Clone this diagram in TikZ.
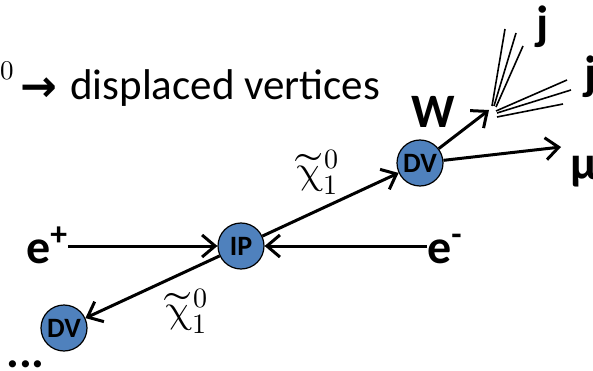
\documentclass[tikz,border=0pt]{standalone}
\usepackage{fontspec}
\usepackage{unicode-math}
\setmainfont{Carlito}
\newfontfamily\arrowfont{DejaVu Sans}
\usetikzlibrary{arrows.meta}
\definecolor{vtxblue}{RGB}{79, 129, 189}

\tikzset{
  vtx/.style={circle, draw=black, line width=1.2pt, fill=vtxblue, inner sep=0pt,
    minimum size=46pt, font=\bfseries\fontsize{28}{28}\selectfont},
  arr/.style={line width=3pt, -{Straight Barb[length=13pt,width=22pt]}},
  jet/.style={line width=1.6pt},
  lbl/.style={inner sep=0pt, font=\bfseries\fontsize{48}{48}\selectfont},
  chi/.style={inner sep=0pt, font=\fontsize{40}{40}\selectfont},
}

\begin{document}
\begin{tikzpicture}[x=1pt, y=-1pt]
        \useasboundingbox (0,0) rectangle (593,371);

        % title line
        \node[inner sep=0pt, anchor=base west, font=\fontsize{27}{27}\selectfont] (zero) at (0,80) {$0$};
        \node[inner sep=0pt, anchor=base west, font=\arrowfont\bfseries\fontsize{44}{44}\selectfont] (titlearrow) at (20,102) {→};
        \node[inner sep=0pt, anchor=base west, font=\fontsize{43}{43}\selectfont] (title) at (70,100) {displaced vertices};

        % vertices
        \node[vtx] (ip) at (241,246) {IP};
        \node[vtx] (dvup) at (420,163) {DV};
        \node[vtx] (dvlow) at (64,328) {DV};

        % beams
        \node[lbl, anchor=base west] (ep) at (26,263) {e\textsuperscript{+}};
        \node[lbl, anchor=base west] (em) at (427,263) {e\textsuperscript{-}};
        \draw[arr] (ep.east |- ip) -- (ip);
        \draw[arr] (em.west |- ip) -- (ip);

        % neutralinos
        \draw[arr] (ip) -- (dvup);
        \draw[arr] (ip) -- (dvlow);
        \node[chi] (chiup) at (318,172) {$\widetilde{\symup{\chi}}_1^0$};
        \node[chi] (chilow) at (187,311) {$\widetilde{\symup{\chi}}_1^0$};
        \node[lbl, anchor=base west] (dots) at (6,367) {...};

        % decay products
        \coordinate (wend) at (489,110);
        \coordinate (muend) at (561,147);
        \draw[arr] (dvup) -- (wend);
        \draw[arr] (dvup) -- (muend);
        \node[lbl, anchor=base west] (wlbl) at (411,128) {W};
        \node[lbl, anchor=base west] (mulbl) at (570,179) {μ};

        % jets
        \foreach \a/\b/\c/\d in {492/106/505/29, 494/106/516/33, 496/107/523/46,
                                 496/111/567/80, 497/113/571/90, 497/117/563/104} {
          \draw[jet] (\a,\b) -- (\c,\d);
        }
        \node[lbl, anchor=base west] (jup) at (536,40) {j};
        \node[lbl, anchor=base west] (jright) at (584,90) {j};
\end{tikzpicture}
\end{document}
